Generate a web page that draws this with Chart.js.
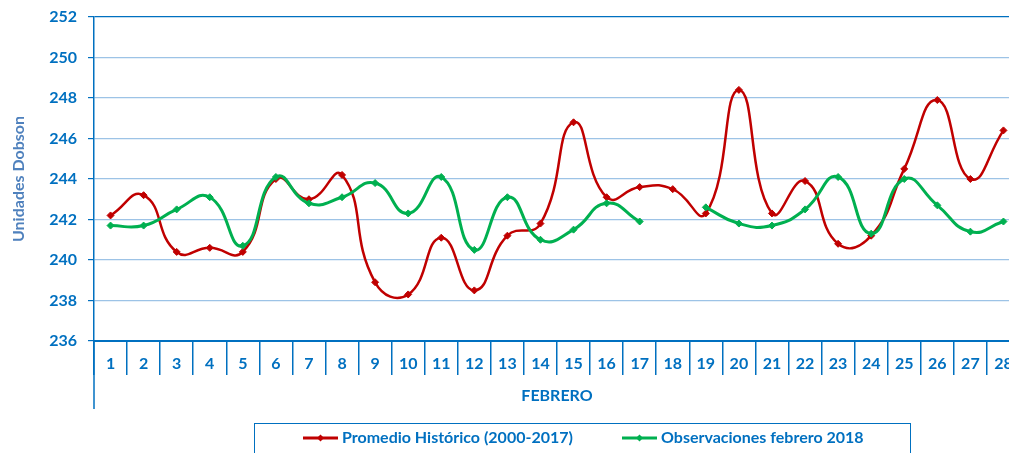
<!DOCTYPE html>
<html>
<head>
<meta charset="utf-8">
<script src="https://cdn.jsdelivr.net/npm/chart.js@4.4.1/dist/chart.umd.min.js"></script>
<style>
  html, body { margin: 0; padding: 0; overflow: hidden; background: #fff; }
</style>
</head>
<body>
<canvas id="chart" width="1025" height="453"></canvas>
<script>
// datos
const dias = ['1','2','3','4','5','6','7','8','9','10','11','12','13','14',
              '15','16','17','18','19','20','21','22','23','24','25','26','27','28'];
const promedio = [242.2, 243.2, 240.4, 240.6, 240.4, 244.0, 243.0, 244.2, 238.9, 238.3,
                  241.1, 238.5, 241.2, 241.8, 246.8, 243.1, 243.6, 243.5, 242.3, 248.4,
                  242.3, 243.9, 240.8, 241.2, 244.5, 247.9, 244.0, 246.4];
const observaciones = [241.7, 241.7, 242.5, 243.1, 240.7, 244.1, 242.8, 243.1, 243.8, 242.3,
                       244.1, 240.5, 243.1, 241.0, 241.5, 242.8, 241.9, null, 242.6, 241.8,
                       241.7, 242.5, 244.1, 241.3, 244.0, 242.7, 241.4, 241.9];
const yMin = 236, yMax = 252, yStep = 2;

const azul = '#0070C0';
const fuente = 'Lato';

// leyenda con recuadro, como en Excel
const legendBox = {
    id: 'legendBox',
    afterDraw(chart) {
        const ctx = chart.ctx;
        const pos = [303, 622];
        const y = 438;
        ctx.save();
        ctx.strokeStyle = azul;
        ctx.lineWidth = 1;
        ctx.strokeRect(254.5, 423.5, 656, 40);
        chart.data.datasets.forEach((ds, i) => {
            const x = pos[i];
            ctx.strokeStyle = ds.borderColor;
            ctx.lineWidth = 3;
            ctx.beginPath();
            ctx.moveTo(x, y);
            ctx.lineTo(x + 35, y);
            ctx.stroke();
            ctx.fillStyle = ds.borderColor;
            ctx.beginPath();
            ctx.moveTo(x + 17.5, y - 3.5);
            ctx.lineTo(x + 21, y);
            ctx.lineTo(x + 17.5, y + 3.5);
            ctx.lineTo(x + 14, y);
            ctx.fill();
            ctx.fillStyle = azul;
            ctx.font = 'bold 16px ' + fuente;
            ctx.textBaseline = 'middle';
            ctx.fillText(ds.label, x + 39, y);
        });
        ctx.restore();
    }
};

// eje vertical que baja hasta el titulo de categorias
const axisExtend = {
    id: 'axisExtend',
    afterDraw(chart) {
        const ctx = chart.ctx;
        const x = chart.chartArea.left;
        ctx.save();
        ctx.strokeStyle = azul;
        ctx.lineWidth = 1.5;
        ctx.beginPath();
        ctx.moveTo(x, chart.chartArea.bottom);
        ctx.lineTo(x, chart.scales.x.bottom);
        ctx.stroke();
        ctx.restore();
    }
};

const chart = document.querySelector('#chart').getContext('2d');
new Chart(chart, {
    type: 'line',
    data: {
        labels: dias,
        datasets: [{
                label: 'Promedio Histórico (2000-2017)',
                data: promedio,
                borderColor: '#C00000',
                backgroundColor: '#C00000',
                borderWidth: 2.5,
                pointStyle: 'rectRot',
                pointRadius: 3.5,
                pointBorderWidth: 1,
                tension: 0.5,
                order: 1
            },
            {
                label: 'Observaciones febrero 2018',
                data: observaciones,
                borderColor: '#00B050',
                backgroundColor: '#00B050',
                borderWidth: 3,
                pointStyle: 'rectRot',
                pointRadius: 3.5,
                pointBorderWidth: 1,
                tension: 0.5,
                spanGaps: false,
                order: 0
            }
        ]
    },
    options: {
        responsive: false,
        animation: false,
        layout: {
            padding: { top: 17, right: 0, bottom: 44, left: 0 }
        },
        plugins: {
            legend: { display: false },
            tooltip: { enabled: false }
        },
        scales: {
            y: {
                min: yMin,
                max: yMax,
                afterFit: s => {
                    s.width = 94;
                    s.paddingTop = 0;
                    s.paddingBottom = 0;
                },
                ticks: {
                    stepSize: yStep,
                    color: azul,
                    padding: 11,
                    font: { family: fuente, size: 16, weight: 'bold' }
                },
                grid: {
                    color: c => c.tick && c.tick.value === yMax ? azul : '#9DC3E6',
                    lineWidth: 1.2,
                    tickLength: 6,
                    tickColor: azul
                },
                border: { color: azul, width: 1.5 },
                title: {
                    display: true,
                    text: 'Unidades Dobson',
                    color: '#4F81BD',
                    padding: { top: 9, bottom: 0 },
                    font: { family: fuente, size: 16, weight: 'bold' }
                }
            },
            x: {
                offset: true,
                afterFit: s => { s.height = 68; },
                ticks: {
                    color: azul,
                    padding: -21,
                    maxRotation: 0,
                    autoSkip: false,
                    font: { family: fuente, size: 16, weight: 'bold' }
                },
                grid: {
                    offset: true,
                    drawOnChartArea: false,
                    tickLength: 34,
                    color: azul,
                    lineWidth: 1.5
                },
                border: { color: azul, width: 2 },
                title: {
                    display: true,
                    text: 'FEBRERO',
                    color: azul,
                    padding: { top: 4, bottom: 4 },
                    font: { family: fuente, size: 16, weight: 'bold' }
                }
            }
        }
    },
    plugins: [legendBox, axisExtend]
});
</script>
</body>
</html>
